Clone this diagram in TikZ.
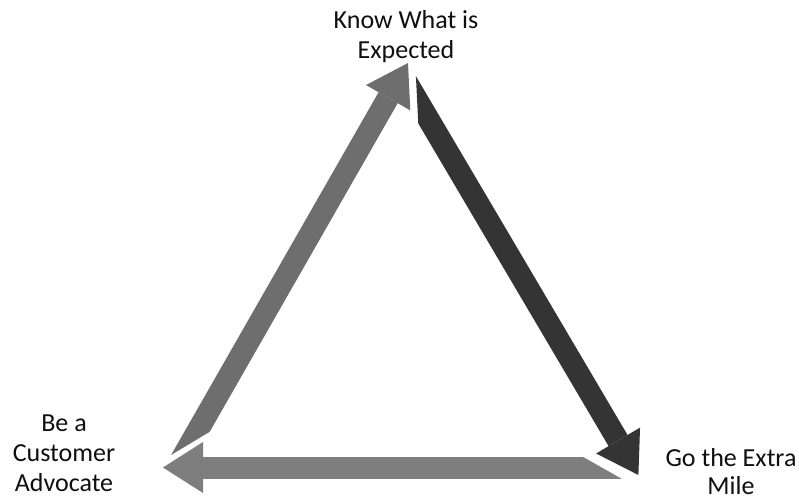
\documentclass[tikz,border=0pt]{standalone}
\usepackage{fontspec}
\setmainfont{Carlito}
\usetikzlibrary{arrows.meta}
\definecolor{arrowgray}{RGB}{110,110,110}
\definecolor{arrowlight}{RGB}{126,126,126}
\definecolor{arrowdark}{RGB}{52,52,52}
\definecolor{labeltext}{RGB}{15,15,15}

\begin{document}
\begin{tikzpicture}[
  x=1pt, y=-1pt,
  lbl/.style      = {align=center, inner sep=0pt, anchor=north, text=labeltext,
                     font=\fontsize{26}{30}\selectfont},
  bigarrow/.style = {line width=22pt,
                     -{Triangle[width=51pt, length=40pt, line width=0pt]}}
]
\useasboundingbox (0,0) rectangle (799,502);

% labels
\node[lbl] (expect)   at (406,10)  {Know What is\\Expected};
\node[lbl, font=\fontsize{26}{28}\selectfont]
           (extra)    at (731,448) {Go the Extra\\Mile};
\node[lbl] (advocate) at (64,415)  {Be a\\Customer\\Advocate};

% arrow ends
\coordinate (lefttail)   at (158,500);
\coordinate (lefttip)    at (408,63);
\coordinate (righttail)  at (381.8,40);
\coordinate (righttip)   at (638.4,475);
\coordinate (bottomtail) at (660,467.5);
\coordinate (bottomtip)  at (163,467.5);

% left side, going up (tail cut along the bottom head)
\begin{scope}
  \clip (-50,587.6) -- (850,47.6) -- (850,-50) -- (-50,-50) -- cycle;
  \draw[bigarrow, arrowgray] (lefttail) -- (lefttip);
\end{scope}

% right side, going down
\begin{scope}
  \clip (411.6,-10) -- (442.1,600) -- (900,600) -- (900,-10) -- cycle;
  \draw[bigarrow, arrowdark] (righttail) -- (righttip);
\end{scope}

% bottom, going left
\begin{scope}
  \clip (-239.6,-10) -- (835.2,600) -- (-300,600) -- (-300,-10) -- cycle;
  \draw[bigarrow, arrowlight] (bottomtail) -- (bottomtip);
\end{scope}
\end{tikzpicture}
\end{document}
